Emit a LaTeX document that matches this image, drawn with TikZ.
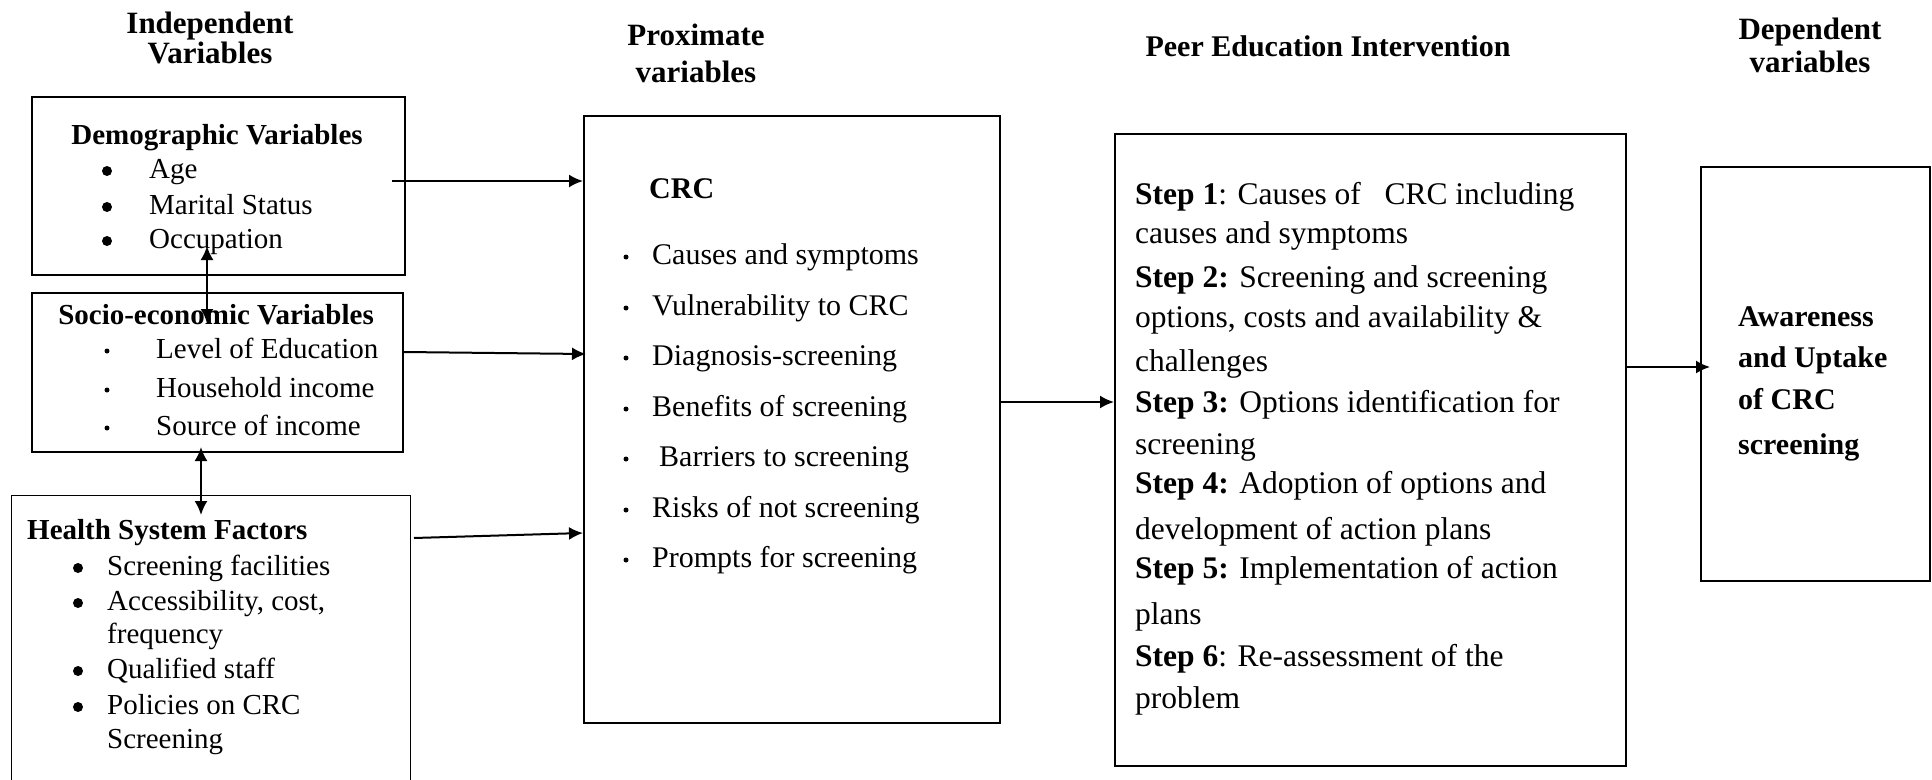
\documentclass[tikz,border=0pt]{standalone}
\usepackage{fontspec}
\setmainfont{Liberation Serif}
\usetikzlibrary{arrows.meta}
\newcommand{\fsz}[2]{\fontsize{#1}{#2}\selectfont}
\begin{document}
\begin{tikzpicture}[x=1pt,y=-1pt,
  box/.style={draw, line width=2pt, anchor=north west, inner sep=0pt},
  thinbox/.style={draw, line width=1.2pt, anchor=north west, inner sep=0pt},
  ttl/.style={align=center, inner sep=0pt, font=\bfseries\fsz{31}{30}},
  hd/.style={anchor=mid, inner sep=0pt, yshift=-7pt, font=\bfseries\fsz{29}{35}},
  hdl/.style={anchor=mid west, inner sep=0pt, yshift=-7pt, font=\bfseries\fsz{29}{35}},
  itm/.style={anchor=mid west, inner sep=0pt, yshift=-7pt, font=\fsz{29}{35}},
  pitm/.style={anchor=mid west, inner sep=0pt, yshift=-7pt, font=\fsz{30}{35}},
  stp/.style={anchor=mid west, inner sep=0pt, yshift=-7pt, font=\fsz{31.5}{40}},
  dtx/.style={anchor=mid west, inner sep=0pt, yshift=-7pt, font=\bfseries\fsz{30}{40}},
  bbul/.style={circle, fill, draw=none, inner sep=0pt, minimum size=10pt, yshift=-2pt},
  sbul/.style={circle, fill, draw=none, inner sep=0pt, minimum size=5pt, yshift=-2pt},
  arr/.style={-{Latex[length=14pt,width=13pt]}, line width=2pt},
  dbl/.style={{Latex[length=14pt,width=13pt]}-{Latex[length=14pt,width=13pt]}, line width=2pt}
]
\useasboundingbox (0,0) rectangle (1932,779);
\clip (0,0) rectangle (1932,779);

% titles
\node[ttl] (tInd) at (210,38) {Independent\\Variables};
\node[ttl, font=\bfseries\fsz{31}{37}] (tProx) at (696,53) {Proximate\\variables};
\node[ttl, font=\bfseries\fsz{30}{30}] (tPeer) at (1328,46) {Peer Education Intervention};
\node[ttl, font=\bfseries\fsz{31}{33}] (tDep) at (1810,45) {Dependent\\variables};

% boxes
\node[box, minimum width=373pt, minimum height=178pt] (demo) at (31,96) {};
\node[box, minimum width=371pt, minimum height=159pt] (socio) at (31,292) {};
\node[thinbox, minimum width=399pt, minimum height=340pt] (health) at (11,495) {};
\node[box, minimum width=416pt, minimum height=607pt] (prox) at (583,115) {};
\node[box, minimum width=511pt, minimum height=632pt] (peer) at (1114,133) {};
\node[box, minimum width=229pt, minimum height=414pt] (dep) at (1700,166) {};

% demographic
\node[hd] (demoT) at (217,135) {Demographic Variables};
\node[bbul] (db1) at (107,169) {};
\node[bbul] (db2) at (107,205) {};
\node[bbul] (db3) at (107,239) {};
\node[itm] (di1) at (149,169) {Age};
\node[itm] (di2) at (149,205) {Marital Status};
\node[itm] (di3) at (149,239) {Occupation};

% socio-economic
\node[hd] (socT) at (216,315) {Socio-economic Variables};
\node[sbul] (sb1) at (107,349) {};
\node[sbul] (sb2) at (107,388) {};
\node[sbul] (sb3) at (107,426) {};
\node[itm] (si1) at (156,349) {Level of Education};
\node[itm] (si2) at (156,388) {Household income};
\node[itm] (si3) at (156,426) {Source of income};

% health
\node[hdl] (hT) at (27,530) {Health System Factors};
\node[bbul] (hb1) at (78,566) {};
\node[bbul] (hb2) at (78,601) {};
\node[bbul] (hb3) at (78,669) {};
\node[bbul] (hb4) at (78,705) {};
\node[itm] (hi1) at (107,566) {Screening facilities};
\node[itm] (hi2) at (107,601) {Accessibility, cost,};
\node[itm] (hi3) at (107,634) {frequency};
\node[itm] (hi4) at (107,669) {Qualified staff};
\node[itm] (hi5) at (107,705) {Policies on CRC};
\node[itm] (hi6) at (107,739) {Screening};

% proximate
\node[hdl, font=\bfseries\fsz{30}{35}] (pT) at (649,189) {CRC};
\foreach \yy/\tx [count=\i] in {255/Causes and symptoms, 306/Vulnerability to CRC, 356/Diagnosis-screening, 407/Benefits of screening, 508/Risks of not screening, 558/Prompts for screening}{
  \node[sbul] (pb\i) at (626,\yy) {};
  \node[pitm] (pi\i) at (652,\yy) {\tx};
}
\node[sbul] (pbB) at (626,457) {};
\node[pitm] (piB) at (659,457) {Barriers to screening};

% peer education steps
\node[stp] (s1) at (1135,195) {\textbf{Step 1}: Causes of \ \ CRC including};
\node[stp] (s2) at (1135,234) {causes and symptoms};
\node[stp] (s3) at (1135,278) {\textbf{Step 2:} Screening and screening};
\node[stp] (s4) at (1135,318) {options, costs and availability \&};
\node[stp] (s5) at (1135,362) {challenges};
\node[stp] (s6) at (1135,403) {\textbf{Step 3:} Options identification for};
\node[stp] (s7) at (1135,445) {screening};
\node[stp] (s8) at (1135,484) {\textbf{Step 4:} Adoption of options and};
\node[stp] (s9) at (1135,530) {development of action plans};
\node[stp] (s10) at (1135,569) {\textbf{Step 5:} Implementation of action};
\node[stp] (s11) at (1135,615) {plans};
\node[stp] (s12) at (1135,657) {\textbf{Step 6}: Re-assessment of the};
\node[stp] (s13) at (1135,699) {problem};

% dependent
\node[dtx] (d1) at (1738,317) {Awareness};
\node[dtx] (d2) at (1738,358) {and Uptake};
\node[dtx] (d3) at (1738,400) {of CRC};
\node[dtx] (d4) at (1738,445) {screening};

% connectors
\coordinate (aDemo) at (392,181);
\draw[arr] (aDemo) -- (aDemo -| prox.west);
\draw[arr] (socio.east |- 0,352) -- ([xshift=3pt]prox.west |- 0,354);
\coordinate (aHlt) at (414,538);
\draw[arr] (aHlt) -- (prox.west |- 0,533);
\draw[arr] (prox.east |- 0,402) -- (peer.west |- 0,402);
\draw[arr] (peer.east |- 0,367) -- ([xshift=10pt]dep.west |- 0,367);
\coordinate (ds1) at (207,246);
\coordinate (ds2) at (207,323);
\draw[dbl] (ds1) -- (ds2);
\coordinate (sh1) at (201,447);
\coordinate (sh2) at (201,515);
\draw[dbl] (sh1) -- (sh2);
\end{tikzpicture}
\end{document}
